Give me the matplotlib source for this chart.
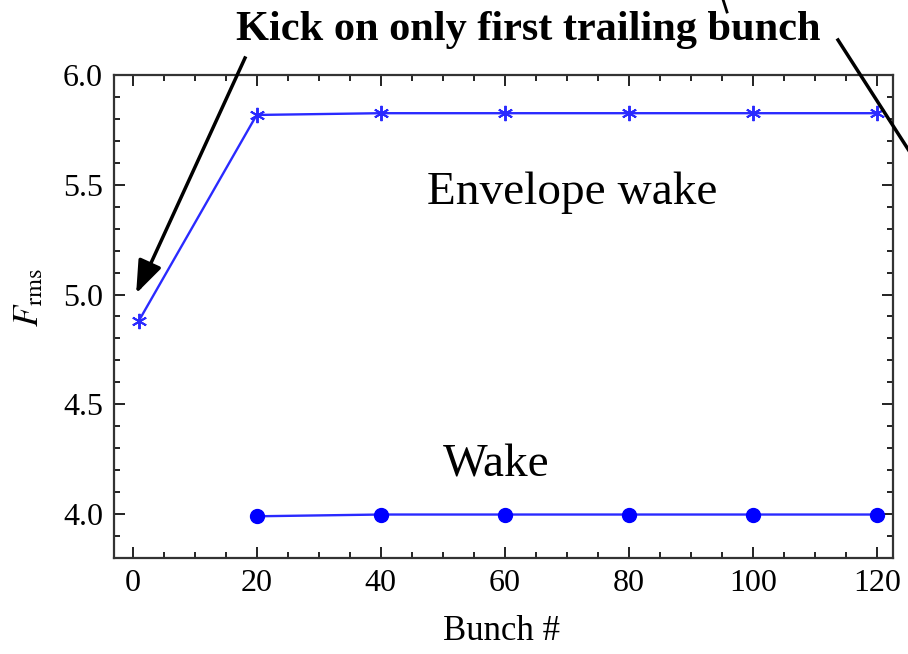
import numpy as np
import matplotlib.pyplot as plt
from matplotlib.ticker import MultipleLocator

plt.rcParams['font.family'] = ['Liberation Serif', 'DejaVu Serif']
plt.rcParams['mathtext.fontset'] = 'stix'

# data
env_bunch = [1, 20, 40, 60, 80, 100, 120]
env_frms = [4.88, 5.818, 5.826, 5.826, 5.826, 5.826, 5.826]
wake_bunch = [20, 40, 60, 80, 100, 120]
wake_frms = [3.99, 3.998, 3.998, 3.998, 3.998, 3.998]

W, H = 908, 654
fig = plt.figure(figsize=(W / 100, H / 100), dpi=100)
ax = fig.add_axes([114 / W, 1 - 558 / H, (893 - 114) / W, (558 - 75) / H])

blue = '#2a2aff'
ax.plot(env_bunch, env_frms, color=blue, lw=1.7, marker=(6, 2, 0), ms=11, mew=1.4, mec=blue)
ax.plot(wake_bunch, wake_frms, color=blue, lw=1.7, marker='o', ms=10, mfc='#0000ff', mec='#0000ff')

ax.set_xlim(-3, 122.6)
ax.set_ylim(3.8, 6.0)
ax.xaxis.set_major_locator(MultipleLocator(20))
ax.xaxis.set_minor_locator(MultipleLocator(5))
ax.yaxis.set_major_locator(MultipleLocator(0.5))
ax.yaxis.set_minor_locator(MultipleLocator(0.1))
ax.yaxis.set_major_formatter(plt.FormatStrFormatter('%.1f'))
ax.tick_params(which='both', direction='in', top=True, right=True, labelsize=23, width=1.4, color='#222222', pad=8)
ax.tick_params(which='major', length=8)
ax.tick_params(which='minor', length=4.5)
for s in ax.spines.values():
    s.set_linewidth(1.6)
    s.set_color('#333333')

fig.text(30 / W, 1 - 298 / H, r'$F_{\mathrm{rms}}$', rotation=90, fontsize=25, ha='center', va='center')
fig.text(502 / W, 1 - 632 / H, 'Bunch #', fontsize=25, ha='center', va='center')

fig.text(528 / W, 1 - 30 / H, 'Kick on only first trailing bunch', fontsize=30.5, fontweight='bold',
         ha='center', va='center')
fig.text(572 / W, 1 - 193 / H, 'Envelope wake', fontsize=34, ha='center', va='center')
fig.text(496 / W, 1 - 465 / H, 'Wake', fontsize=34, ha='center', va='center')

# arrows (figure pixels, origin bottom-left)
fig.add_artist(plt.Line2D([245 / W, 140 / W], [1 - 58 / H, 1 - 287 / H], color='k', lw=2.5))
ax.annotate('', xy=(135, H - 296), xycoords='figure pixels', xytext=(150, H - 263),
            textcoords='figure pixels',
            arrowprops=dict(arrowstyle='-|>,head_width=0.3,head_length=0.8', color='k', lw=2.5, mutation_scale=25))
fig.add_artist(plt.Line2D([838 / W, 915 / W], [1 - 40 / H, 1 - 160 / H], color='k', lw=2.5))
fig.add_artist(plt.Line2D([720 / W, 727 / W], [1 + 10 / H, 1 - 12 / H], color='k', lw=2))

fig.savefig('out.png', dpi=100)
